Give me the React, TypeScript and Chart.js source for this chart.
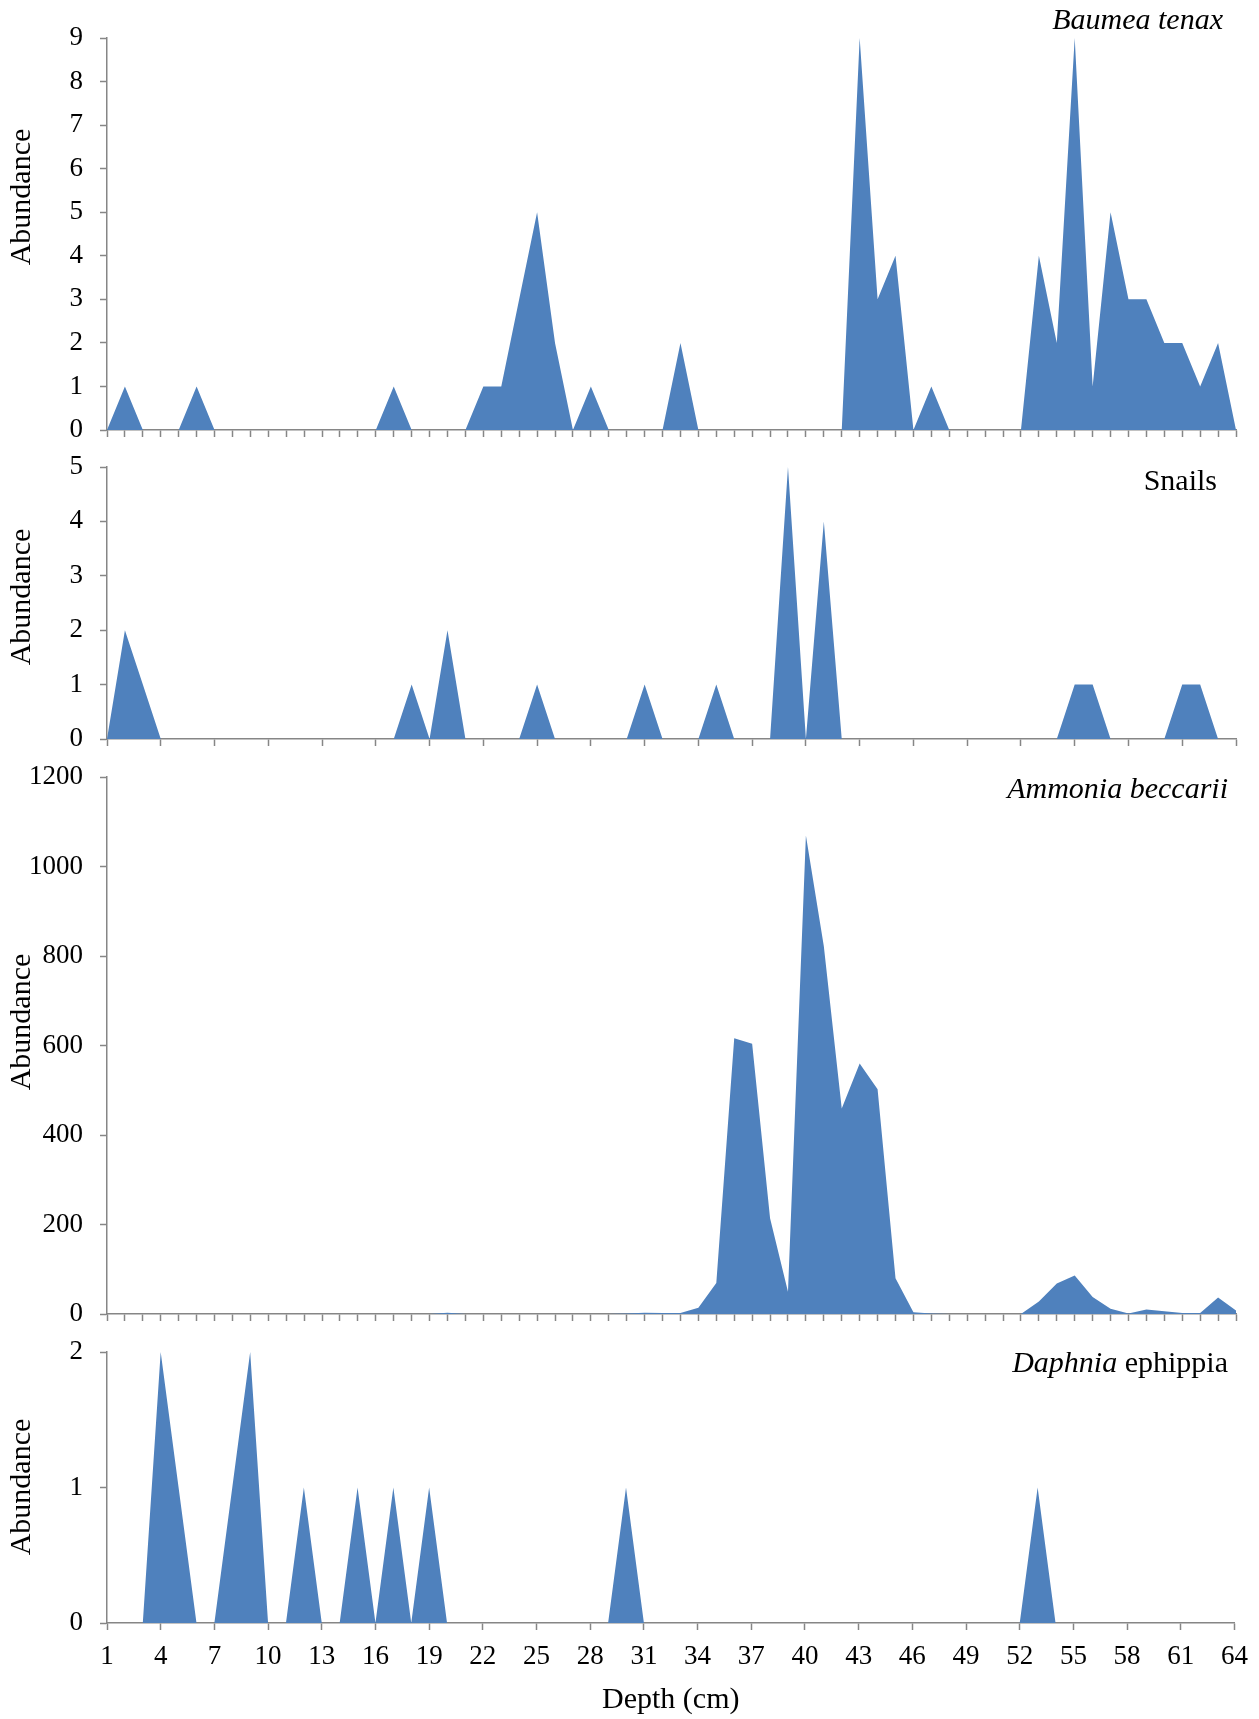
import React, { useEffect, useRef } from "react";
import { Chart, registerables } from "chart.js";

Chart.register(...registerables);

// Core depth (cm), one sample per centimetre
const depths = [
  1, 2, 3, 4, 5, 6, 7, 8, 9, 10, 11, 12, 13, 14, 15, 16,
  17, 18, 19, 20, 21, 22, 23, 24, 25, 26, 27, 28, 29, 30, 31, 32,
  33, 34, 35, 36, 37, 38, 39, 40, 41, 42, 43, 44, 45, 46, 47, 48,
  49, 50, 51, 52, 53, 54, 55, 56, 57, 58, 59, 60, 61, 62, 63, 64,
];

// Labelled depth ticks on the bottom axis
const depthTickLabels = [1, 4, 7, 10, 13, 16, 19, 22, 25, 28, 31, 34, 37, 40, 43, 46, 49, 52, 55, 58, 61, 64];

const baumeaTenax = [
  0, 1, 0, 0, 0, 1, 0, 0,
  0, 0, 0, 0, 0, 0, 0, 0,
  1, 0, 0, 0, 0, 1, 1, 3,
  5, 2, 0, 1, 0, 0, 0, 0,
  2, 0, 0, 0, 0, 0, 0, 0,
  0, 0, 9, 3, 4, 0, 1, 0,
  0, 0, 0, 0, 4, 2, 9, 1,
  5, 3, 3, 2, 2, 1, 2, 0,
];

const snails = [
  0, 2, 1, 0, 0, 0, 0, 0,
  0, 0, 0, 0, 0, 0, 0, 0,
  0, 1, 0, 2, 0, 0, 0, 0,
  1, 0, 0, 0, 0, 0, 1, 0,
  0, 0, 1, 0, 0, 0, 5, 0,
  4, 0, 0, 0, 0, 0, 0, 0,
  0, 0, 0, 0, 0, 0, 1, 1,
  0, 0, 0, 0, 1, 1, 0, 0,
];

const ammoniaBeccarii = [
  0, 0, 0, 0, 0, 0, 0, 0,
  0, 0, 0, 0, 0, 0, 0, 0,
  0, 0, 0, 3, 0, 0, 0, 0,
  0, 0, 0, 0, 0, 1, 3, 2,
  2, 14, 69, 616, 604, 214, 50, 1069,
  822, 459, 560, 502, 80, 4, 1, 0,
  0, 0, 0, 0, 28, 68, 86, 38,
  12, 1, 10, 6, 2, 2, 37, 8,
];

const daphniaEphippia = [
  0, 0, 0, 2, 1, 0, 0, 1,
  2, 0, 0, 1, 0, 0, 1, 0,
  1, 0, 1, 0, 0, 0, 0, 0,
  0, 0, 0, 0, 0, 1, 0, 0,
  0, 0, 0, 0, 0, 0, 0, 0,
  0, 0, 0, 0, 0, 0, 0, 0,
  0, 0, 0, 0, 1, 0, 0, 0,
  0, 0, 0, 0, 0, 0, 0, 0,
];

const FILL = "#4F81BD";
const AXIS = "#868686";
const SERIF = "'Liberation Serif', 'Times New Roman', serif";
const WIDTH = 1259;

type Seg = { text: string; italic: boolean };

interface PanelSpec {
  id: string;
  values: number[];
  yMax: number;
  yStep: number;
  label: Seg[];
  top: number;
  height: number;
  plotTop: number;
  xAxisHeight: number;
  labelY: number;
  labelRight: number;
  yTitleY: number;
  xTicks: number[];
  showXLabels: boolean;
}

const panels: PanelSpec[] = [
  {
    id: "baumea",
    values: baumeaTenax,
    yMax: 9,
    yStep: 1,
    label: [{ text: "Baumea tenax", italic: true }],
    top: 0,
    height: 452,
    plotTop: 38,
    xAxisHeight: 22,
    labelY: 21,
    labelRight: 1223,
    yTitleY: 197,
    xTicks: depths,
    showXLabels: false,
  },
  {
    id: "snails",
    values: snails,
    yMax: 5,
    yStep: 1,
    label: [{ text: "Snails", italic: false }],
    top: 448,
    height: 304,
    plotTop: 19,
    xAxisHeight: 13,
    labelY: 34,
    labelRight: 1217,
    yTitleY: 149,
    xTicks: depthTickLabels,
    showXLabels: false,
  },
  {
    id: "ammonia",
    values: ammoniaBeccarii,
    yMax: 1200,
    yStep: 200,
    label: [{ text: "Ammonia beccarii", italic: true }],
    top: 752,
    height: 580,
    plotTop: 25,
    xAxisHeight: 18,
    labelY: 38,
    labelRight: 1228,
    yTitleY: 270,
    xTicks: depths,
    showXLabels: false,
  },
  {
    id: "daphnia",
    values: daphniaEphippia,
    yMax: 2,
    yStep: 1,
    label: [
      { text: "Daphnia", italic: true },
      { text: " ephippia", italic: false },
    ],
    top: 1332,
    height: 387,
    plotTop: 20,
    xAxisHeight: 96,
    labelY: 32,
    labelRight: 1228,
    yTitleY: 155,
    xTicks: depthTickLabels,
    showXLabels: true,
  },
];

// Draws the taxon name (top right) and the rotated "Abundance" axis title
function makeTextPlugin(p: PanelSpec) {
  return {
    id: "panelText_" + p.id,
    afterDraw(chart: Chart) {
      const ctx = chart.ctx;
      ctx.save();
      ctx.fillStyle = "#000";
      ctx.textBaseline = "middle";
      ctx.textAlign = "left";
      const fonts = p.label.map((s) => `${s.italic ? "italic " : ""}30px ${SERIF}`);
      const widths = p.label.map((s, i) => {
        ctx.font = fonts[i];
        return ctx.measureText(s.text).width;
      });
      let x = p.labelRight - widths.reduce((a, b) => a + b, 0);
      p.label.forEach((s, i) => {
        ctx.font = fonts[i];
        ctx.fillText(s.text, x, p.labelY);
        x += widths[i];
      });

      ctx.translate(22, p.yTitleY);
      ctx.rotate(-Math.PI / 2);
      ctx.textAlign = "center";
      ctx.font = `30px ${SERIF}`;
      ctx.fillText("Abundance", 0, 0);
      ctx.restore();
    },
  };
}

function Panel({ spec }: { spec: PanelSpec }) {
  const ref = useRef<HTMLCanvasElement | null>(null);

  useEffect(() => {
    if (!ref.current) return;
    const p = spec;
    const chart = new Chart(ref.current, {
      type: "line",
      data: {
        datasets: [
          {
            data: depths.map((d, i) => ({ x: d, y: p.values[i] })),
            fill: "origin",
            backgroundColor: FILL,
            borderColor: "rgba(0,0,0,0)",
            borderWidth: 0,
            pointRadius: 0,
            tension: 0,
          },
        ],
      },
      options: {
        animation: false,
        responsive: false,
        devicePixelRatio: 1,
        layout: { padding: { top: p.plotTop, right: WIDTH - 1236, left: 0, bottom: 0 } },
        plugins: {
          legend: { display: false },
          tooltip: { enabled: false },
        },
        scales: {
          x: {
            type: "linear",
            min: 1,
            max: 64,
            afterBuildTicks: (s: any) => {
              s.ticks = p.xTicks.map((v) => ({ value: v }));
            },
            afterFit: (s: any) => {
              s.height = p.xAxisHeight;
            },
            ticks: {
              display: p.showXLabels,
              autoSkip: false,
              maxRotation: 0,
              padding: 11,
              color: "#000",
              font: { family: SERIF, size: 27 },
              callback: (v: any) => String(v),
            },
            grid: {
              drawOnChartArea: false,
              drawTicks: true,
              tickLength: 7,
              tickColor: AXIS,
              tickWidth: 1.5,
            },
            border: { display: true, color: AXIS, width: 1.5 },
            title: p.showXLabels
              ? {
                  display: true,
                  text: "Depth (cm)",
                  color: "#000",
                  font: { family: SERIF, size: 30 },
                  padding: { top: 0, bottom: 1 },
                }
              : { display: false },
          },
          y: {
            min: 0,
            max: p.yMax,
            afterFit: (s: any) => {
              s.width = 107;
              // keep the plot edges where the layout puts them
              s.paddingTop = 0;
              s.paddingBottom = 0;
            },
            ticks: {
              stepSize: p.yStep,
              padding: 17,
              color: "#000",
              font: { family: SERIF, size: 27 },
              callback: (v: any) => String(v),
            },
            grid: {
              drawOnChartArea: false,
              drawTicks: true,
              tickLength: 7,
              tickColor: AXIS,
              tickWidth: 1.5,
            },
            border: { display: true, color: AXIS, width: 1.5 },
          },
        },
      },
      plugins: [makeTextPlugin(p)],
    } as any);
    return () => chart.destroy();
  }, [spec]);

  return (
    <div style={{ position: "absolute", left: 0, top: spec.top, width: WIDTH, height: spec.height }}>
      <canvas ref={ref} width={WIDTH} height={spec.height} style={{ display: "block" }} />
    </div>
  );
}

export default function App() {
  return (
    <div
      style={{
        position: "absolute",
        left: 0,
        top: 0,
        width: WIDTH,
        height: 1719,
        background: "#fff",
        overflow: "hidden",
      }}
    >
      {panels.map((p) => (
        <Panel key={p.id} spec={p} />
      ))}
    </div>
  );
}
